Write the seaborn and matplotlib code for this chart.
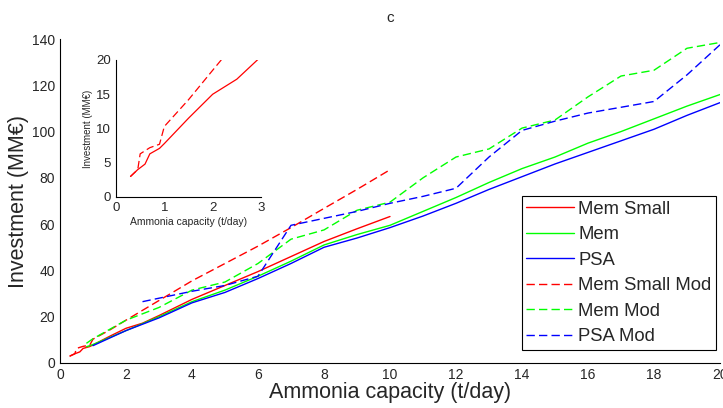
import matplotlib
matplotlib.use("Agg")
import matplotlib.pyplot as plt
import seaborn as sns

# data (capacity t/day, investment MM€)
mem_small_x = [0.3, 0.45, 0.6, 0.7, 0.9, 1, 1.5, 2, 2.5, 3, 4, 5, 6, 7, 8, 9, 10]
mem_small_y = [3, 4, 4.8, 6.3, 7.1, 7.8, 11.5, 15, 17.2, 20.5, 27.5, 33.5, 39.5, 46, 52.5, 58, 63.3]

mem_x = [0.8, 1, 2, 3, 4, 5, 6, 7, 8, 9, 10, 11, 12, 13, 14, 15, 16, 17, 18, 19, 20]
mem_y = [7, 8, 14, 20, 26.5, 31.5, 37.5, 44, 51, 55.5, 59.5, 65.5, 71.5, 78, 84, 89, 95, 100, 105.5, 111, 116]

psa_x = [1, 2, 3, 4, 5, 6, 7, 8, 9, 10, 11, 12, 13, 14, 15, 16, 17, 18, 19, 20]
psa_y = [7.5, 14, 19.5, 26, 30.5, 36.5, 43, 50, 54, 58.5, 63.5, 69, 75, 80.5, 86, 91, 96, 101, 107, 112.5]

mem_small_mod_x = [0.3, 0.45, 0.5, 0.7, 0.9, 1, 1.5, 2, 3, 4, 5, 6, 7, 8, 9, 10]
mem_small_mod_y = [3, 4, 6.3, 7.2, 7.7, 10.3, 14.2, 18.5, 27, 35.5, 43, 50.5, 58.5, 66.8, 75, 83.5]

mem_mod_x = [0.8, 1, 2, 3, 4, 5, 6, 7, 8, 9, 10, 11, 12, 13, 14, 15, 16, 17, 18, 19, 20]
mem_mod_y = [8.5, 10.5, 18.5, 24, 31.5, 35, 43, 53.5, 57.5, 66, 69.5, 80, 89, 92.5, 101.5, 105,
             115, 124, 126.5, 136, 138.5]

psa_mod_x = [2.5, 3, 4, 5, 6, 7, 8, 9, 10, 11, 12, 13, 14, 15, 16, 17, 18, 19, 20]
psa_mod_y = [26.5, 28, 31, 33.5, 37.5, 59.5, 62.5, 65.5, 69, 72, 75.5, 89, 100.5, 104.5, 108,
             110.5, 113, 124.5, 137.5]

series = [
    ("Mem Small", mem_small_x, mem_small_y, "red", "-"),
    ("Mem", mem_x, mem_y, "lime", "-"),
    ("PSA", psa_x, psa_y, "blue", "-"),
    ("Mem Small Mod", mem_small_mod_x, mem_small_mod_y, "red", "--"),
    ("Mem Mod", mem_mod_x, mem_mod_y, "lime", "--"),
    ("PSA Mod", psa_mod_x, psa_mod_y, "blue", "--"),
]

sns.set_style("white")
plt.rcParams['font.family'] = ['Liberation Sans', 'DejaVu Sans']

fig = plt.figure(figsize=(7.23, 4.08), dpi=100)
ax = fig.add_axes([60 / 723, 45 / 408, 660 / 723, 324 / 408])

for name, xs, ys, col, ls in series:
    l = sns.lineplot(x=xs, y=ys, ax=ax, color=col, linewidth=1, label=name)
    if ls == "--":
        l.get_lines()[-1].set_dashes((6, 3))

ax.set_xlim(0, 20)
ax.set_ylim(0, 140)
ax.set_xticks(range(0, 21, 2))
ax.set_yticks(range(0, 141, 20))
ax.tick_params(direction="in", length=5, labelsize=10)
for s in ["top", "right"]:
    ax.spines[s].set_visible(False)
for s in ["left", "bottom"]:
    ax.spines[s].set_color("black")
    ax.spines[s].set_linewidth(0.8)
ax.set_xlabel("Ammonia capacity (t/day)", fontsize=15.5, labelpad=0)
ax.set_ylabel("Investment (MM€)", fontsize=15.5, labelpad=2)
ax.set_title("c", fontsize=11, pad=12)

leg = ax.legend(loc="lower right", bbox_to_anchor=(716 / 723, 58 / 408),
                bbox_transform=fig.transFigure, fancybox=False, edgecolor="black",
                framealpha=1, fontsize=13.3, handlelength=2.6, labelspacing=0.46,
                borderaxespad=0, handletextpad=0.2, borderpad=0.25)
leg.get_frame().set_linewidth(0.8)

# inset with the small-capacity zoom
ins = fig.add_axes([116 / 723, 211 / 408, 145 / 723, 137 / 408])
for name, xs, ys, col, ls in series[:1] + series[3:4]:
    l = sns.lineplot(x=xs, y=ys, ax=ins, color=col, linewidth=0.9)
    if ls == "--":
        l.get_lines()[-1].set_dashes((6, 3))
ins.set_xlim(0, 3)
ins.set_ylim(0, 20)
ins.set_xticks([0, 1, 2, 3])
ins.set_yticks([0, 5, 10, 15, 20])
ins.tick_params(direction="in", length=3, labelsize=9.5)
for s in ["top", "right"]:
    ins.spines[s].set_visible(False)
for s in ["left", "bottom"]:
    ins.spines[s].set_color("black")
    ins.spines[s].set_linewidth(0.8)
ins.set_facecolor("none")
ins.set_xlabel("Ammonia capacity (t/day)", fontsize=7.5, labelpad=2)
ins.set_ylabel("Investment (MM€)", fontsize=7, labelpad=2)

fig.savefig("out.png", dpi=100)
